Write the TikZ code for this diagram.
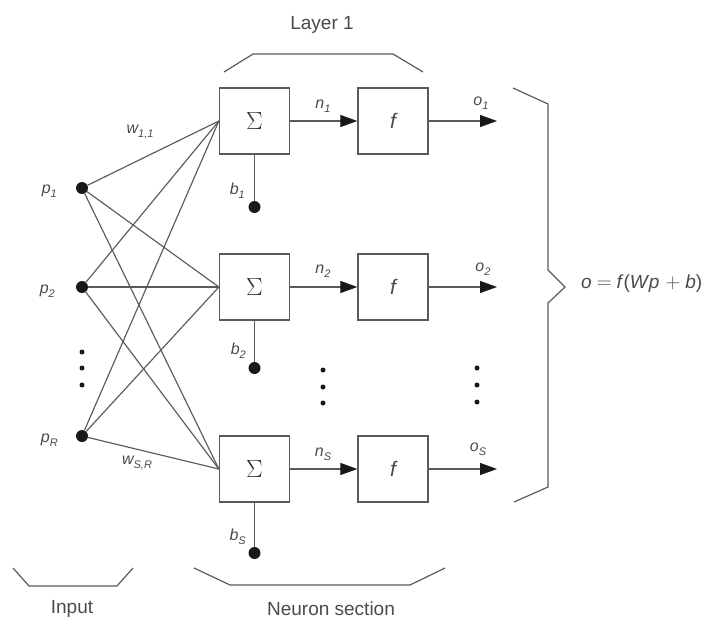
\documentclass[tikz,border=0pt]{standalone}
\usepackage{fontspec}
\setmainfont{Liberation Sans}
\usetikzlibrary{arrows.meta}
\definecolor{ln}{HTML}{5A5A5A}
\definecolor{tx}{HTML}{4A4A4A}
\newcommand\sbs[1]{\raisebox{-0.5ex}{\fontsize{11}{12}\selectfont #1}}
\begin{document}
\begin{tikzpicture}[x=1pt,y=-1pt,
  box/.style={draw=ln, line width=1.3pt, minimum width=70pt, minimum height=66pt, inner sep=0pt},
  bigdot/.style={circle, fill=black!90, inner sep=0pt, minimum size=12pt},
  sdot/.style={circle, fill=black!90, inner sep=0pt, minimum size=5pt},
  wire/.style={draw=ln, line width=1.15pt},
  arr/.style={wire, -{Triangle[length=17pt,width=12pt,color=black!90]}},
  lab/.style={text=tx, font=\fontsize{16}{18}\selectfont\itshape, inner sep=0pt},
  big/.style={text=tx, font=\fontsize{19}{22}\selectfont, inner sep=0pt},
  sig/.style={text=black!80, font=\fontsize{31}{34}\selectfont},
  brk/.style={draw=ln, line width=1.2pt}]
\useasboundingbox (0,0) rectangle (709,621);

% boxes
\node[box] (s1) at (254.5,121) {};
\node[box] (f1) at (393,121) {};
\node[box] (s2) at (254.5,287) {};
\node[box] (f2) at (393,287) {};
\node[box] (s3) at (254.5,469) {};
\node[box] (f3) at (393,469) {};
\node[sig] (sg1) at (s1.center) {$\Sigma$};
\node[sig] (sg2) at (s2.center) {$\Sigma$};
\node[sig] (sg3) at (s3.center) {$\Sigma$};
\node[lab, font=\fontsize{21}{24}\selectfont\itshape] (ff1) at (f1.center) {f};
\node[lab, font=\fontsize{21}{24}\selectfont\itshape] (ff2) at (f2.center) {f};
\node[lab, font=\fontsize{21}{24}\selectfont\itshape] (ff3) at (f3.center) {f};

% inputs
\node[bigdot] (p1) at (82,188) {};
\node[bigdot] (p2) at (82,287) {};
\node[bigdot] (pR) at (82,436) {};
\node[lab, anchor=east] (lp1) at (57,191) {p\sbs{1}};
\node[lab, anchor=east] (lp2) at (55,291) {p\sbs{2}};
\node[lab, anchor=east] (lpR) at (58,440) {p\sbs{\itshape R}};
\node[sdot] (d1) at (82,352) {};
\node[sdot] (d2) at (82,368) {};
\node[sdot] (d3) at (82,385) {};

\foreach \a in {p1,p2,pR}
  \foreach \b in {s1,s2,s3}
    \draw[wire] (\a) -- (\b.west);

\node[lab] (w11) at (140,132) {w\sbs{1,1}};
\node[lab] (wSR) at (137,463) {w\sbs{S,R}};

% biases
\node[bigdot] (b1) at (254.5,207) {};
\node[bigdot] (b2) at (254.5,368) {};
\node[bigdot] (b3) at (254.5,553) {};
\draw[wire] (s1.south) -- (b1);
\draw[wire] (s2.south) -- (b2);
\draw[wire] (s3.south) -- (b3);
\node[lab, anchor=east] (lb1) at (245,191) {b\sbs{1}};
\node[lab, anchor=east] (lb2) at (246,351) {b\sbs{2}};
\node[lab, anchor=east] (lb3) at (246,537) {b\sbs{S}};

% n arrows
\draw[arr] (s1.east) -- (f1.west);
\draw[arr] (s2.east) -- (f2.west);
\draw[arr] (s3.east) -- (f3.west);
\node[lab] (n1) at (323,106) {n\sbs{1}};
\node[lab] (n2) at (323,271) {n\sbs{2}};
\node[lab] (nS) at (323,454) {n\sbs{S}};
\node[sdot] (m1) at (323,370) {};
\node[sdot] (m2) at (323,387) {};
\node[sdot] (m3) at (323,403) {};

% outputs
\coordinate (e1) at (497,121);
\coordinate (e2) at (497,287);
\coordinate (e3) at (497,469);
\draw[arr] (f1.east) -- (e1);
\draw[arr] (f2.east) -- (e2);
\draw[arr] (f3.east) -- (e3);
\node[lab] (o1) at (481,103) {o\sbs{1}};
\node[lab] (o2) at (483,269) {o\sbs{2}};
\node[lab] (oS) at (478,449) {o\sbs{S}};
\node[sdot] (r1) at (477,368) {};
\node[sdot] (r2) at (477,385) {};
\node[sdot] (r3) at (477,402) {};

% brackets
\draw[brk] (224,72) -- (253,54) -- (393,54) -- (423,72);
\node[big] (layer) at (322,25) {Layer 1};
\draw[brk] (194,568) -- (230,585) -- (410,585) -- (445,568);
\node[big] (neuron) at (331,609) {Neuron section};
\draw[brk] (13,568) -- (29,586) -- (117,586) -- (133,568);
\node[big] (input) at (72,609) {Input};
\draw[brk] (513,88) -- (548,104) -- (548,270) -- (565,287) -- (548,303) -- (548,487) -- (514,502);
\node[lab, anchor=west, font=\fontsize{19}{22}\selectfont] (eq) at (581,284)
  {\textit{o}\hspace{5pt}{\fontsize{22}{24}\selectfont$=$}\hspace{5pt}\textit{f}(\textit{W\kern1pt p}\hspace{6pt}{\fontsize{22}{24}\selectfont$+$}\hspace{5pt}\textit{b})};
\end{tikzpicture}
\end{document}
